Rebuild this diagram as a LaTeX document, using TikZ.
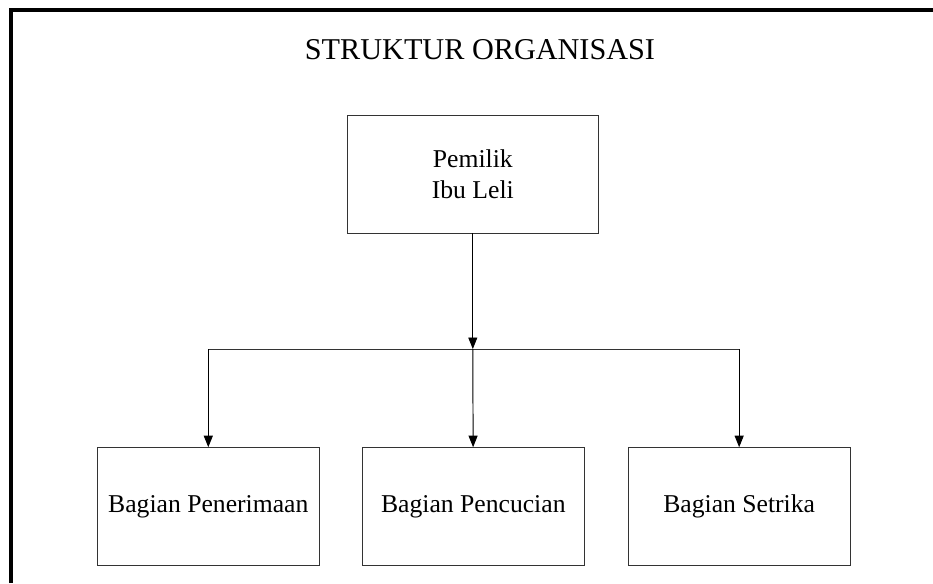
\documentclass[tikz,border=0pt]{standalone}
\usepackage{fontspec}
\setmainfont{Liberation Serif}
\usetikzlibrary{arrows.meta,positioning}

\begin{document}
\begin{tikzpicture}[
		unit/.style={draw=black!80, line width=0.55pt, minimum width=4.44cm, minimum height=2.346cm, align=center, inner sep=0pt, font=\fontsize{14.6}{17.8}\selectfont},
		link/.style={line width=0.55pt, -{Triangle[length=0.23cm, width=0.18cm]}}
	]
	%%%%% START %%%%%
	
	\useasboundingbox (0, 0) rectangle (18.66, 11.66);
	
	% frame
	\draw[line width=0.08cm] (0.22, 0) -- (0.22, 11.46) -- (18.66, 11.46);
	
	\node[anchor=base, font=\fontsize{17.2}{20}\selectfont] (title) at (9.6, 10.474) {STRUKTUR ORGANISASI};
	
	\node[unit, minimum width=5.02cm] (owner) at (9.456, 8.173) {Pemilik\\Ibu Leli};
	
	\node[unit] (recv) at (4.166, 1.533) {Bagian Penerimaan};
	\node[unit] (wash) at (9.466, 1.533) {Bagian Pencucian};
	\node[unit] (iron) at (14.783, 1.533) {Bagian Setrika};
	
	\coordinate (split) at (owner.south |- 0, 4.68);
	\coordinate (splitL) at (recv.north |- split);
	\coordinate (splitR) at (iron.north |- split);
	
	\draw[link] (owner) -- (split);
	\draw[line width=0.55pt, color=black!80] (splitL) -- (splitR);
	\draw[link] (splitL) -- (recv);
	\draw[link] (split) -- (wash);
	\draw[link] (splitR) -- (iron);
	
	%%%%% END %%%%%
\end{tikzpicture}
\end{document}
